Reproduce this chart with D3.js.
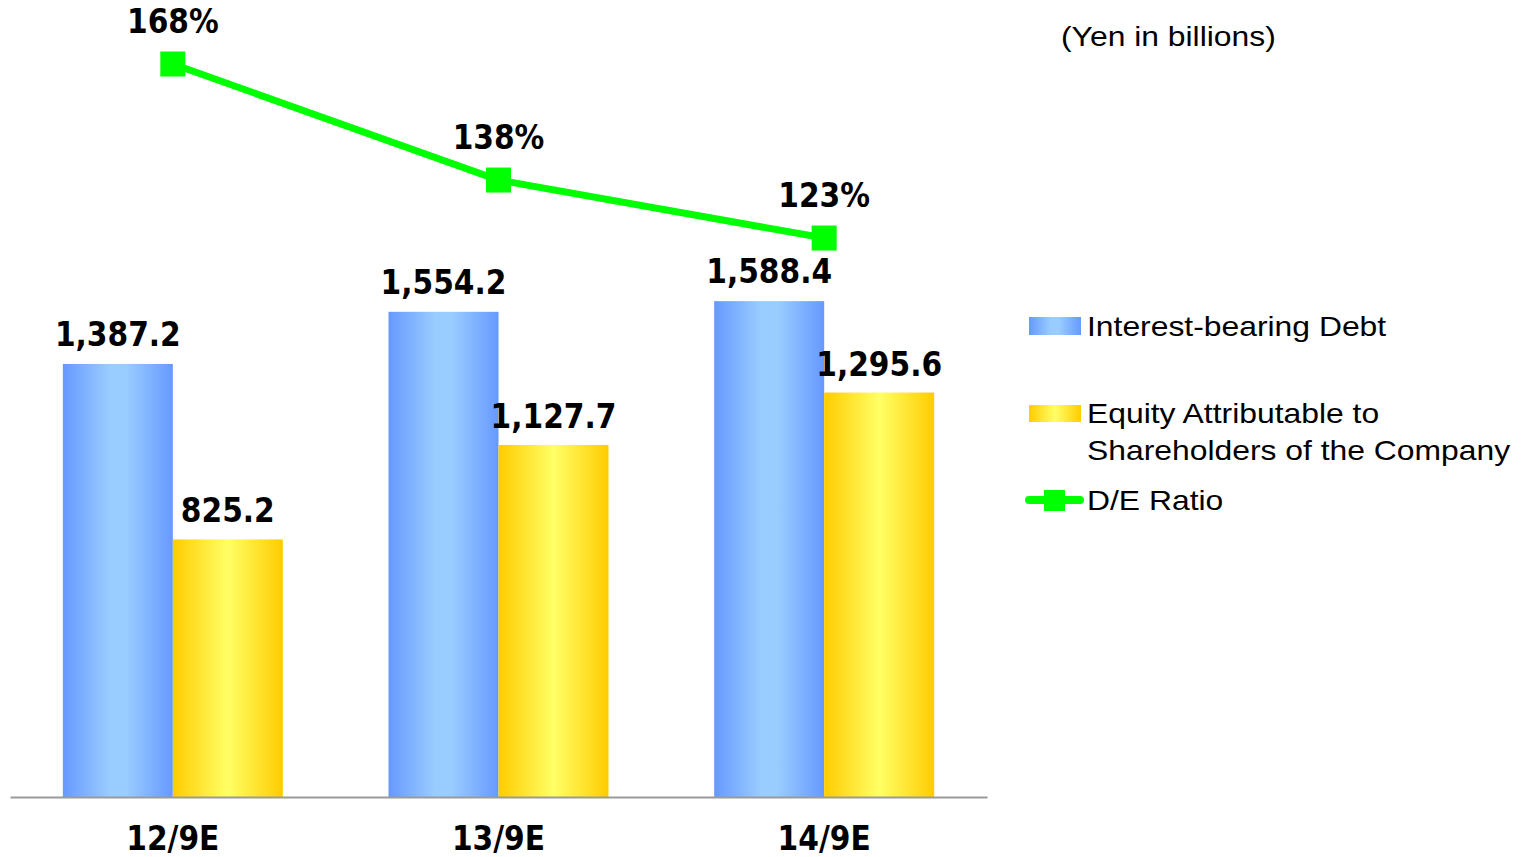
<!DOCTYPE html>
<html><head><meta charset="utf-8">
<script src="https://cdn.jsdelivr.net/npm/d3@7"></script>
<style>body{margin:0;background:#fff}svg{display:block}.lg{font-family:'Liberation Sans',Arial,sans-serif;font-size:27px}</style>
</head><body>
<svg id="chart" width="1530" height="857"></svg>
<script>
const categories = ["12/9E", "13/9E", "14/9E"];
const debt = [1387.2, 1554.2, 1588.4];
const equity = [825.2, 1127.7, 1295.6];
const deRatio = [168, 138, 123];
const seriesNames = ["Interest-bearing Debt", "Equity Attributable to|Shareholders of the Company", "D/E Ratio"];
const unitLabel = "(Yen in billions)";

const svg = d3.select("#chart");
const defs = svg.append("defs");
function grad(id, stops) {
  const g = defs.append("linearGradient").attr("id", id).attr("x1", "0%").attr("x2", "100%").attr("y1", "0%").attr("y2", "0%");
  stops.forEach(s => g.append("stop").attr("offset", s[0]).attr("stop-color", s[1]));
}
grad("gBlue", [["0%", "#6699ff"], ["42%", "#99ccff"], ["58%", "#99ccff"], ["100%", "#6699ff"]]);
grad("gYellow", [["0%", "#ffcc00"], ["50%", "#ffff66"], ["100%", "#ffcc00"]]);

const x = d3.scaleBand().domain(categories).range([10, 987]).padding(0);
const y = d3.scaleLinear().domain([0, 2553]).range([797, 0]);
const yr = d3.scaleLinear().domain([100, 180]).range([327, 17.6]);
const barW = 110;
const cx = c => x(c) + x.bandwidth() / 2;

const valFont = "'DejaVu Sans', sans-serif";
function valText(sel) {
  return sel.attr("font-family", valFont).attr("font-weight", "bold")
    .style("font-stretch", "condensed").attr("font-size", 33).attr("text-anchor", "middle").attr("fill", "#000");
}

// bars
const gB = svg.append("g");
categories.forEach((c, i) => {
  gB.append("rect").attr("x", cx(c) - barW).attr("y", y(debt[i])).attr("width", barW).attr("height", y(0) - y(debt[i])).attr("fill", "url(#gBlue)");
  gB.append("rect").attr("x", cx(c)).attr("y", y(equity[i])).attr("width", barW).attr("height", y(0) - y(equity[i])).attr("fill", "url(#gYellow)");
  valText(gB.append("text")).attr("x", cx(c) - barW / 2).attr("y", y(debt[i]) - 18).text(d3.format(",.1f")(debt[i]));
  valText(gB.append("text")).attr("x", cx(c) + barW / 2).attr("y", y(equity[i]) - 17).text(d3.format(",.1f")(equity[i]));
});

// axis
const axis = svg.append("g").attr("transform", `translate(0,${y(0)})`)
  .call(d3.axisBottom(x).tickSize(0).tickPadding(0));
axis.select(".domain").attr("stroke", "#9a9a9a").attr("stroke-width", 2);
axis.selectAll(".tick text").attr("dy", 0).attr("y", 53)
  .attr("font-family", valFont).attr("font-weight", "bold").style("font-stretch", "condensed")
  .attr("font-size", 33).attr("fill", "#000");

// line
const line = d3.line().x((d, i) => cx(categories[i])).y(d => yr(d));
svg.append("path").datum(deRatio).attr("d", line).attr("fill", "none").attr("stroke", "#00ff00").attr("stroke-width", 7);
svg.selectAll(".mk").data(deRatio).enter().append("rect")
  .attr("x", (d, i) => cx(categories[i]) - 12.5).attr("y", d => yr(d) - 12.5).attr("width", 25).attr("height", 25).attr("fill", "#00ff00");
svg.selectAll(".rl").data(deRatio).enter().append("text").call(valText)
  .attr("x", (d, i) => cx(categories[i])).attr("y", d => yr(d) - 31).text(d => d + "%");

// legend (text widened horizontally to match the reference's Arial metrics)
const sx = 1.18;
function lgText(x0, y0, s) {
  return svg.append("g").attr("transform", `translate(${x0},${y0}) scale(${sx},1)`)
    .append("text").attr("class", "lg").attr("fill", "#000").text(s);
}
lgText(1061, 46, unitLabel);
svg.append("rect").attr("x", 1029).attr("y", 317).attr("width", 52).attr("height", 18).attr("fill", "url(#gBlue)");
lgText(1087, 336, seriesNames[0]);
svg.append("rect").attr("x", 1029).attr("y", 405).attr("width", 52).attr("height", 17).attr("fill", "url(#gYellow)");
seriesNames[1].split("|").forEach((s, k) => lgText(1087, 423 + k * 37, s));
svg.append("line").attr("x1", 1029).attr("x2", 1080).attr("y1", 500).attr("y2", 500).attr("stroke", "#00ff00").attr("stroke-width", 8).attr("stroke-linecap", "round");
svg.append("rect").attr("x", 1044).attr("y", 490).attr("width", 21).attr("height", 21).attr("fill", "#00ff00");
lgText(1087, 510, seriesNames[2]);
</script>
</body></html>
